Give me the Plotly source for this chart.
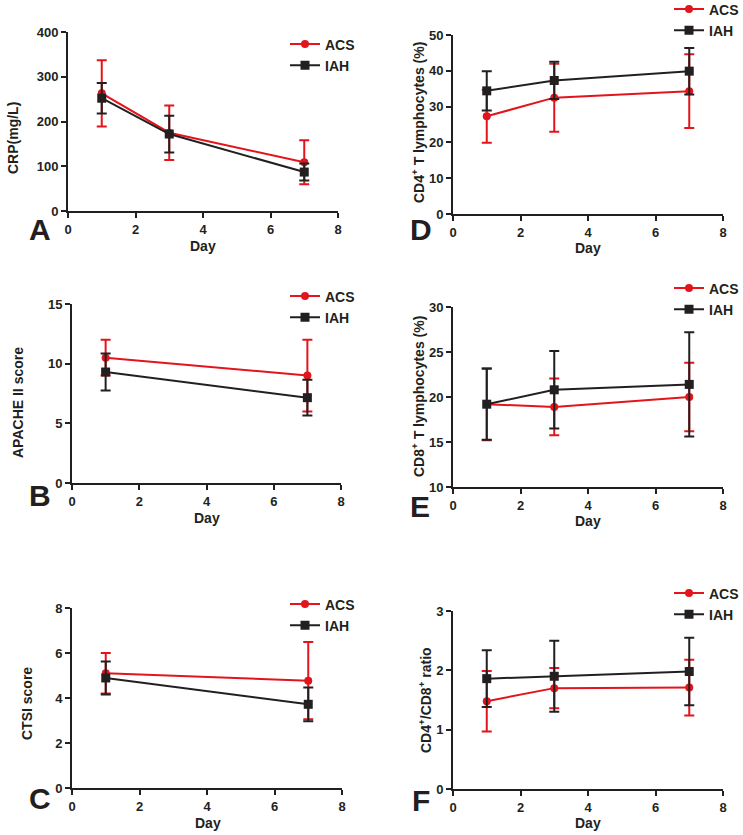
import plotly.graph_objects as go

W, H = 743, 835
RED = "#e3141b"
BLK = "#231f20"

days3 = [1, 3, 7]
days2 = [1, 7]

# Panel A: CRP (mg/L)
crp_acs = [263, 175, 109]
crp_acs_sd = [74, 61, 49]
crp_iah = [252, 172, 87]
crp_iah_sd = [34, 41, 19]

# Panel B: APACHE II score
apache_acs = [10.5, 9.0]
apache_acs_sd = [1.5, 3.0]
apache_iah = [9.3, 7.15]
apache_iah_sd = [1.55, 1.5]

# Panel C: CTSI score
ctsi_acs = [5.1, 4.77]
ctsi_acs_sd = [0.9, 1.72]
ctsi_iah = [4.89, 3.72]
ctsi_iah_sd = [0.73, 0.75]

# Panel D: CD4+ T lymphocytes (%)
cd4_acs = [27.3, 32.5, 34.3]
cd4_acs_sd = [7.4, 9.5, 10.3]
cd4_iah = [34.4, 37.3, 39.9]
cd4_iah_sd = [5.5, 5.2, 6.5]

# Panel E: CD8+ T lymphocytes (%)
cd8_acs = [19.2, 18.9, 20.0]
cd8_acs_sd = [4.0, 3.15, 3.8]
cd8_iah = [19.2, 20.8, 21.4]
cd8_iah_sd = [3.95, 4.3, 5.8]

# Panel F: CD4+/CD8+ ratio
ratio_acs = [1.48, 1.70, 1.71]
ratio_acs_sd = [0.51, 0.34, 0.47]
ratio_iah = [1.86, 1.90, 1.98]
ratio_iah_sd = [0.48, 0.6, 0.57]

def px(x):
    return x / W

def py(y):
    return 1 - y / H

# panel: (axis suffix, x-days, acs, acs_sd, iah, iah_sd, yrange, dtick, plot box px (l, r, t, b), legend (text x, ACS centre y))
panels = [
    ("", days3, crp_acs, crp_acs_sd, crp_iah, crp_iah_sd, [0, 400], 100, (68, 338, 32, 211), (325, 43)),
    ("2", days2, apache_acs, apache_acs_sd, apache_iah, apache_iah_sd, [0, 15], 5, (72, 341, 304, 483), (325, 295)),
    ("3", days2, ctsi_acs, ctsi_acs_sd, ctsi_iah, ctsi_iah_sd, [0, 8], 2, (72, 342, 608, 788), (325, 603)),
    ("4", days3, cd4_acs, cd4_acs_sd, cd4_iah, cd4_iah_sd, [0, 50], 10, (453, 723, 35, 214), (709, 8)),
    ("5", days3, cd8_acs, cd8_acs_sd, cd8_iah, cd8_iah_sd, [10, 30], 5, (453, 723, 307, 487), (709, 287)),
    ("6", days3, ratio_acs, ratio_acs_sd, ratio_iah, ratio_iah_sd, [0, 3], 1, (453, 723, 611, 789), (709, 592)),
]

fig = go.Figure()
layout = dict(
    width=W, height=H,
    margin=dict(l=0, r=0, t=0, b=0, autoexpand=False),
    paper_bgcolor="white", plot_bgcolor="white",
    font=dict(family="Liberation Sans, Arial, sans-serif", size=12, color=BLK, weight="bold"),
    showlegend=True,
)

for i, (sfx, xd, acs, acs_sd, iah, iah_sd, yr, dt, box, lg) in enumerate(panels):
    leg = "legend" if i == 0 else f"legend{i+1}"
    fig.add_trace(go.Scatter(
        x=xd, y=acs, name="ACS", mode="lines+markers",
        line=dict(color=RED, width=2),
        marker=dict(symbol="circle", size=8, color=RED),
        error_y=dict(type="data", array=acs_sd, visible=True, color=RED, thickness=2, width=5),
        xaxis="x" + sfx, yaxis="y" + sfx, legend=leg,
    ))
    fig.add_trace(go.Scatter(
        x=xd, y=iah, name="IAH", mode="lines+markers",
        line=dict(color=BLK, width=2),
        marker=dict(symbol="square", size=9, color=BLK),
        error_y=dict(type="data", array=iah_sd, visible=True, color=BLK, thickness=2, width=5),
        xaxis="x" + sfx, yaxis="y" + sfx, legend=leg,
    ))
    l, r, t, b = box
    common = dict(showgrid=False, zeroline=False, showline=True, linecolor=BLK, linewidth=2,
                  ticks="outside", tickcolor=BLK, tickwidth=2, ticklen=5,
                  tickfont=dict(size=13, color=BLK, weight="bold"))
    layout["xaxis" + sfx] = dict(domain=[px(l), px(r)], range=[0, 8], dtick=2, tick0=0,
                                 anchor="y" + sfx, **common)
    layout["yaxis" + sfx] = dict(domain=[py(b), py(t)], range=yr, dtick=dt, tick0=yr[0],
                                 anchor="x" + sfx, **common)
    layout[leg] = dict(x=px(lg[0] - 40), y=py(lg[1] - 14.5), xanchor="left", yanchor="top",
                       bgcolor="rgba(0,0,0,0)", font=dict(size=14, color=BLK, weight="bold"),
                       tracegroupgap=0)

fig.update_layout(**layout)

annots = []
ytitles = [
    ("CRP(mg/L)", 13, 138),
    ("APACHE II score", 18, 403),
    ("CTSI score", 27, 704),
    ("CD4<sup>+</sup> T lymphocytes (%)", 418, 123),
    ("CD8<sup>+</sup> T lymphocytes (%)", 418, 397),
    ("CD4<sup>+</sup>/CD8<sup>+</sup> ratio", 425, 700),
]
for txt, x, y in ytitles:
    annots.append(dict(text=txt, x=px(x), y=py(y), xref="paper", yref="paper",
                       showarrow=False, textangle=-90, xanchor="center", yanchor="middle",
                       font=dict(size=14, color=BLK, weight="bold")))
daypos = [(203, 246), (207, 518), (208, 823), (588, 248), (588, 521), (588, 823)]
for x, y in daypos:
    annots.append(dict(text="Day", x=px(x), y=py(y), xref="paper", yref="paper",
                       showarrow=False, xanchor="center", yanchor="middle",
                       font=dict(size=14, color=BLK, weight="bold")))
letters = [("A", 40, 230), ("B", 40, 495), ("C", 40, 798), ("D", 421, 230), ("E", 420, 507), ("F", 421, 800)]
for ch, x, y in letters:
    annots.append(dict(text=ch, x=px(x), y=py(y), xref="paper", yref="paper",
                       showarrow=False, xanchor="center", yanchor="middle",
                       font=dict(size=30, color=BLK, weight="bold")))
fig.update_layout(annotations=annots)

fig.write_html(
    "out.html",
    config={"displayModeBar": False},
    post_script="document.body.style.margin='0';document.body.style.padding='0';document.body.style.overflow='hidden';",
)
